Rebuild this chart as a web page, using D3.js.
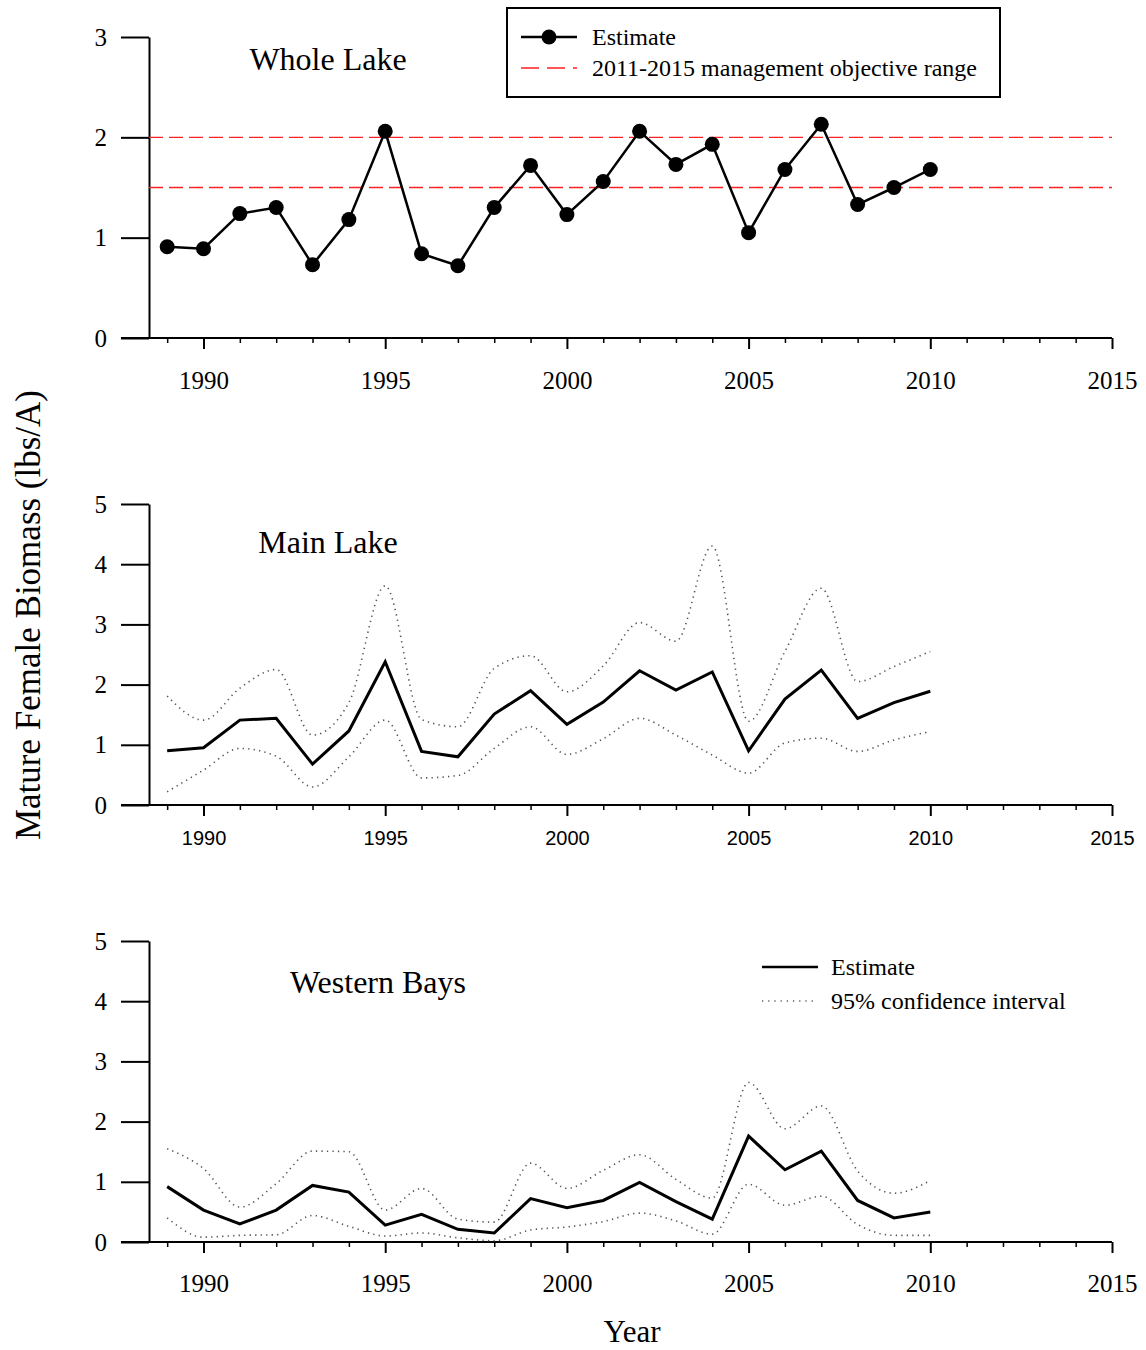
<!DOCTYPE html>
<html>
<head>
<meta charset="utf-8">
<script src="https://cdn.jsdelivr.net/npm/d3@7"></script>
<style>
  html, body { margin: 0; padding: 0; background: #fff; }
  svg { display: block; }
</style>
</head>
<body>
<script>
// Survey years
const years = [1989, 1990, 1991, 1992, 1993, 1994, 1995, 1996, 1997, 1998, 1999,
               2000, 2001, 2002, 2003, 2004, 2005, 2006, 2007, 2008, 2009, 2010];

// Whole lake estimate (lbs/A)
const wholeLake = [0.91, 0.89, 1.24, 1.30, 0.73, 1.18, 2.06, 0.84, 0.72, 1.30, 1.72,
                   1.23, 1.56, 2.06, 1.73, 1.93, 1.05, 1.68, 2.13, 1.33, 1.50, 1.68];

// 2011-2015 management objective range
const objectiveRange = [1.5, 2.0];

// Main lake estimate with 95% confidence bounds
const mainEst   = [0.90, 0.95, 1.41, 1.44, 0.68, 1.23, 2.38, 0.89, 0.80, 1.51, 1.90,
                   1.34, 1.71, 2.23, 1.91, 2.21, 0.90, 1.76, 2.24, 1.44, 1.70, 1.89];
const mainUpper = [1.81, 1.41, 1.94, 2.25, 1.16, 1.70, 3.64, 1.42, 1.30, 2.27, 2.48,
                   1.88, 2.31, 3.03, 2.72, 4.30, 1.39, 2.55, 3.60, 2.05, 2.30, 2.55];
const mainLower = [0.22, 0.58, 0.94, 0.81, 0.30, 0.80, 1.41, 0.45, 0.49, 0.94, 1.30,
                   0.84, 1.10, 1.44, 1.16, 0.83, 0.53, 1.03, 1.11, 0.89, 1.08, 1.22];

// Western bays estimate with 95% confidence bounds
const westEst   = [0.92, 0.53, 0.30, 0.53, 0.94, 0.83, 0.28, 0.46, 0.21, 0.15, 0.72,
                   0.57, 0.69, 0.99, 0.67, 0.38, 1.76, 1.20, 1.51, 0.69, 0.40, 0.50];
const westUpper = [1.55, 1.22, 0.58, 0.97, 1.51, 1.50, 0.53, 0.89, 0.38, 0.33, 1.31,
                   0.89, 1.19, 1.45, 1.04, 0.73, 2.65, 1.88, 2.26, 1.18, 0.81, 1.02];
const westLower = [0.40, 0.08, 0.11, 0.12, 0.44, 0.26, 0.10, 0.15, 0.07, 0.02, 0.20,
                   0.25, 0.34, 0.48, 0.35, 0.13, 0.96, 0.61, 0.76, 0.29, 0.11, 0.11];

// Axis ticks
const majorYears = [1990, 1995, 2000, 2005, 2010, 2015];
const minorYears = [1989, 1991, 1992, 1993, 1994, 1996, 1997, 1998, 1999, 2001, 2002, 2003,
                    2004, 2006, 2007, 2008, 2009, 2011, 2012, 2013, 2014];
const wholeTicks = [0, 1, 2, 3];
const regionTicks = [0, 1, 2, 3, 4, 5];

// Text
const panelTitles = ["Whole Lake", "Main Lake", "Western Bays"];
const yTitle = "Mature Female Biomass (lbs/A)";
const xTitle = "Year";
const topLegend = ["Estimate", "2011-2015 management objective range"];
const ciLegend = ["Estimate", "95% confidence interval"];

const SERIF = '"Liberation Serif", "Times New Roman", serif';
const SANS = '"Liberation Sans", Arial, sans-serif';

const W = 1146, H = 1350;
const svg = d3.select("body").append("svg").attr("width", W).attr("height", H);

const x = d3.scaleLinear().domain([1988.5, 2015]).range([149, 1112]);
const axisLeftEdge = 121;

function drawPanel(cfg) {
  const y = d3.scaleLinear().domain(cfg.domain).range([cfg.bottom, cfg.top]);
  const g = svg.append("g");

  // y axis
  const ya = g.append("g").attr("transform", `translate(${x.range()[0]},0)`)
    .call(d3.axisLeft(y).tickValues(cfg.yTicks).tickSize(28).tickSizeOuter(0).tickPadding(14)
      .tickFormat(d3.format("d")));
  ya.attr("font-family", null);
  ya.select(".domain").attr("stroke-width", 2);
  ya.selectAll(".tick line").attr("stroke-width", 2);
  ya.selectAll("text").attr("font-size", 25).attr("fill", "#000").style("font-family", SERIF);

  // x axis baseline, continuing under the y ticks
  g.append("line").attr("x1", axisLeftEdge).attr("x2", x.range()[1])
    .attr("y1", cfg.bottom).attr("y2", cfg.bottom)
    .attr("stroke", "#000").attr("stroke-width", 2);

  const xa = g.append("g").attr("transform", `translate(0,${cfg.bottom})`)
    .call(d3.axisBottom(x).tickValues(majorYears).tickSize(11).tickSizeOuter(0)
      .tickFormat(d3.format("d")));
  xa.attr("font-family", null);
  xa.select(".domain").remove();
  xa.selectAll(".tick line").attr("stroke-width", 2);
  xa.selectAll("text").attr("y", cfg.labelOffset).attr("dy", "0.35em").attr("fill", "#000")
    .attr("font-size", cfg.xFontSize).style("font-family", cfg.xSans ? SANS : SERIF);

  const xm = g.append("g").attr("transform", `translate(0,${cfg.bottom})`)
    .call(d3.axisBottom(x).tickValues(minorYears).tickSize(5).tickSizeOuter(0).tickFormat(""));
  xm.select(".domain").remove();
  xm.selectAll(".tick line").attr("stroke-width", 1.5);

  // panel title
  g.append("text").attr("x", cfg.titleX).attr("y", cfg.titleY).attr("text-anchor", "middle")
    .attr("dy", "0.35em").attr("font-size", 32).style("font-family", SERIF)
    .text(cfg.title);

  return { g, y };
}

// ---------- Whole Lake ----------
{
  const { g, y } = drawPanel({
    domain: [0, 3], top: 37, bottom: 338, yTicks: wholeTicks,
    labelOffset: 42, xFontSize: 25, xSans: false,
    title: panelTitles[0], titleX: 328, titleY: 59
  });

  objectiveRange.forEach(v => {
    g.append("line").attr("x1", x(1988.5)).attr("x2", x(2015))
      .attr("y1", y(v)).attr("y2", y(v))
      .attr("stroke", "#ff2020").attr("stroke-width", 1.3).attr("stroke-dasharray", "14,6");
  });

  const pts = years.map((yr, i) => [yr, wholeLake[i]]);
  g.append("path").datum(pts)
    .attr("d", d3.line().x(d => x(d[0])).y(d => y(d[1])))
    .attr("fill", "none").attr("stroke", "#000").attr("stroke-width", 2.5);
  g.selectAll("circle.pt").data(pts).join("circle").attr("class", "pt")
    .attr("cx", d => x(d[0])).attr("cy", d => y(d[1])).attr("r", 7.5).attr("fill", "#000");

  // legend
  const lg = svg.append("g");
  lg.append("rect").attr("x", 507).attr("y", 8).attr("width", 493).attr("height", 89)
    .attr("fill", "#fff").attr("stroke", "#000").attr("stroke-width", 2);
  lg.append("line").attr("x1", 521).attr("x2", 577).attr("y1", 37).attr("y2", 37)
    .attr("stroke", "#000").attr("stroke-width", 2.5);
  lg.append("circle").attr("cx", 549).attr("cy", 37).attr("r", 7.5).attr("fill", "#000");
  lg.append("line").attr("x1", 521).attr("x2", 577).attr("y1", 68).attr("y2", 68)
    .attr("stroke", "#ff2020").attr("stroke-width", 1.3).attr("stroke-dasharray", "18,8");
  lg.selectAll("text").data(topLegend).join("text")
    .attr("x", 592).attr("y", (d, i) => 37 + i * 31).attr("dy", "0.35em")
    .attr("font-size", 24).style("font-family", SERIF).text(d => d);
}

function drawCIPanel(cfg, est, upper, lower) {
  const { g, y } = drawPanel(cfg);
  const smooth = d3.line().curve(d3.curveMonotoneX).x(d => x(d[0])).y(d => y(d[1]));
  const straight = d3.line().x(d => x(d[0])).y(d => y(d[1]));
  [upper, lower].forEach(s => {
    g.append("path").datum(years.map((yr, i) => [yr, s[i]]))
      .attr("d", smooth).attr("fill", "none")
      .attr("stroke", "#555").attr("stroke-width", 1.6).attr("stroke-dasharray", "1.3,4.2");
  });
  g.append("path").datum(years.map((yr, i) => [yr, est[i]]))
    .attr("d", straight).attr("fill", "none")
    .attr("stroke", "#000").attr("stroke-width", 3).attr("stroke-linejoin", "miter");
  return g;
}

// ---------- Main Lake ----------
drawCIPanel({
  domain: [0, 5], top: 504, bottom: 805, yTicks: regionTicks,
  labelOffset: 33, xFontSize: 20, xSans: true,
  title: panelTitles[1], titleX: 328, titleY: 542
}, mainEst, mainUpper, mainLower);

// ---------- Western Bays ----------
drawCIPanel({
  domain: [0, 5], top: 941, bottom: 1242, yTicks: regionTicks,
  labelOffset: 41, xFontSize: 25, xSans: false,
  title: panelTitles[2], titleX: 378, titleY: 982
}, westEst, westUpper, westLower);

// legend for the confidence-interval panels
{
  const lg = svg.append("g");
  lg.append("line").attr("x1", 762).attr("x2", 818).attr("y1", 967).attr("y2", 967)
    .attr("stroke", "#000").attr("stroke-width", 2.5);
  lg.append("line").attr("x1", 762).attr("x2", 814).attr("y1", 1001).attr("y2", 1001)
    .attr("stroke", "#555").attr("stroke-width", 1.4).attr("stroke-dasharray", "1.2,5");
  lg.selectAll("text").data(ciLegend).join("text")
    .attr("x", 831).attr("y", (d, i) => 967 + i * 34).attr("dy", "0.35em")
    .attr("font-size", 24).style("font-family", SERIF).text(d => d);
}

// axis titles
svg.append("text").attr("transform", "translate(28,615) rotate(-90)")
  .attr("text-anchor", "middle").attr("dy", "0.35em").attr("font-size", 35)
  .style("font-family", SERIF).text(yTitle);
svg.append("text").attr("x", 632).attr("y", 1331).attr("text-anchor", "middle").attr("dy", "0.35em")
  .attr("font-size", 31).style("font-family", SERIF).text(xTitle);
</script>
</body>
</html>
